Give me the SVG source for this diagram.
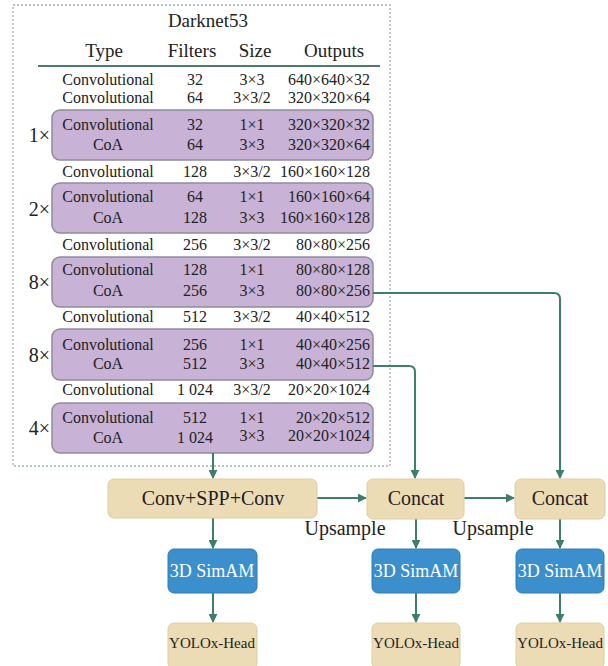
<svg xmlns="http://www.w3.org/2000/svg" width="608" height="666" viewBox="0 0 608 666" font-family="'Liberation Serif', 'Times New Roman', serif">
<defs>
<marker id="ah" viewBox="0 0 10 10" refX="9" refY="5" markerWidth="4.5" markerHeight="4.5" orient="auto" markerUnits="strokeWidth">
<path d="M0,0 L10,5 L0,10 z" fill="#3f7d6c"/>
</marker>
<style>
text{font-family:"Liberation Serif","Times New Roman",serif;fill:#222}
.r{font-size:16px}
.c{text-anchor:middle}
.e{text-anchor:end}
.h{font-size:19px}
.lab{font-size:20px;text-anchor:end}
.grp{fill:#c8b2d5;stroke:#8e8c9c;stroke-width:1.5}
.bg{fill:#ecdcb6;stroke:#ddcca4;stroke-width:1}
.bl{fill:#3b8fcc;stroke:#2f7cb4;stroke-width:1}
.wt{fill:#fff;font-size:18px;text-anchor:middle}
.big{font-size:20px;text-anchor:middle}
.hd{font-size:15px;text-anchor:middle}
.ln{fill:none;stroke:#3f7d6c;stroke-width:2}
</style>
</defs>
<rect width="608" height="666" fill="#fff"/>
<g id="darknet53">
<rect x="13" y="5" width="377" height="461" fill="none" stroke="#9fb3b0" stroke-width="1.3" stroke-dasharray="2 2"/>
<text class="h c" x="208" y="27">Darknet53</text>
<text class="h c" x="104" y="57">Type</text>
<text class="h c" x="192" y="57">Filters</text>
<text class="h c" x="255" y="57">Size</text>
<text class="h c" x="334" y="57">Outputs</text>
<line x1="38" y1="66" x2="380" y2="66" stroke="#4f7a70" stroke-width="2"/>
<rect class="grp" x="52" y="110" width="321" height="50" rx="8"/>
<rect class="grp" x="52" y="183" width="321" height="50" rx="8"/>
<rect class="grp" x="52" y="257" width="321" height="50" rx="8"/>
<rect class="grp" x="52" y="329" width="321" height="51" rx="8"/>
<rect class="grp" x="52" y="403" width="321" height="50" rx="8"/>
<text class="lab" x="50" y="142">1×</text>
<text class="lab" x="50" y="216">2×</text>
<text class="lab" x="50" y="289">8×</text>
<text class="lab" x="50" y="362">8×</text>
<text class="lab" x="50" y="435">4×</text>
<g class="r">
<text class="c" x="108" y="85">Convolutional</text><text class="c" x="195" y="85">32</text><text class="c" x="252" y="85">3×3</text><text class="e" x="370" y="85">640×640×32</text>
<text class="c" x="108" y="103">Convolutional</text><text class="c" x="195" y="103">64</text><text class="c" x="252" y="103">3×3/2</text><text class="e" x="370" y="103">320×320×64</text>
<text class="c" x="108" y="130">Convolutional</text><text class="c" x="195" y="130">32</text><text class="c" x="252" y="130">1×1</text><text class="e" x="370" y="130">320×320×32</text>
<text class="c" x="108" y="150">CoA</text><text class="c" x="195" y="150">64</text><text class="c" x="252" y="150">3×3</text><text class="e" x="370" y="150">320×320×64</text>
<text class="c" x="108" y="177">Convolutional</text><text class="c" x="195" y="177">128</text><text class="c" x="252" y="177">3×3/2</text><text class="e" x="370" y="177">160×160×128</text>
<text class="c" x="108" y="202">Convolutional</text><text class="c" x="195" y="202">64</text><text class="c" x="252" y="202">1×1</text><text class="e" x="370" y="202">160×160×64</text>
<text class="c" x="108" y="223">CoA</text><text class="c" x="195" y="223">128</text><text class="c" x="252" y="223">3×3</text><text class="e" x="370" y="223">160×160×128</text>
<text class="c" x="108" y="250">Convolutional</text><text class="c" x="195" y="250">256</text><text class="c" x="252" y="250">3×3/2</text><text class="e" x="370" y="250">80×80×256</text>
<text class="c" x="108" y="275">Convolutional</text><text class="c" x="195" y="275">128</text><text class="c" x="252" y="275">1×1</text><text class="e" x="370" y="275">80×80×128</text>
<text class="c" x="108" y="296">CoA</text><text class="c" x="195" y="296">256</text><text class="c" x="252" y="296">3×3</text><text class="e" x="370" y="296">80×80×256</text>
<text class="c" x="108" y="322">Convolutional</text><text class="c" x="195" y="322">512</text><text class="c" x="252" y="322">3×3/2</text><text class="e" x="370" y="322">40×40×512</text>
<text class="c" x="108" y="350">Convolutional</text><text class="c" x="195" y="350">256</text><text class="c" x="252" y="350">1×1</text><text class="e" x="370" y="350">40×40×256</text>
<text class="c" x="108" y="369">CoA</text><text class="c" x="195" y="369">512</text><text class="c" x="252" y="369">3×3</text><text class="e" x="370" y="369">40×40×512</text>
<text class="c" x="108" y="395">Convolutional</text><text class="c" x="195" y="395">1 024</text><text class="c" x="252" y="395">3×3/2</text><text class="e" x="370" y="395">20×20×1024</text>
<text class="c" x="108" y="423">Convolutional</text><text class="c" x="195" y="423">512</text><text class="c" x="252" y="423">1×1</text><text class="e" x="370" y="423">20×20×512</text>
<text class="c" x="108" y="443">CoA</text><text class="c" x="195" y="443">1 024</text><text class="c" x="252" y="441">3×3</text><text class="e" x="370" y="441">20×20×1024</text>
</g>
</g>
<g id="connectors">
<path class="ln" d="M213,453 V478" marker-end="url(#ah)"/>
<path class="ln" d="M373,293 H554 Q560,293 560,299 V478" marker-end="url(#ah)"/>
<path class="ln" d="M373,366 H409 Q415,366 415,372 V478" marker-end="url(#ah)"/>
<path class="ln" d="M317,498 H366" marker-end="url(#ah)"/>
<path class="ln" d="M464,498 H514" marker-end="url(#ah)"/>
<path class="ln" d="M213,518 V548" marker-end="url(#ah)"/>
<path class="ln" d="M416,519 V548" marker-end="url(#ah)"/>
<path class="ln" d="M560,519 V548" marker-end="url(#ah)"/>
<path class="ln" d="M213,593 V622" marker-end="url(#ah)"/>
<path class="ln" d="M416,593 V622" marker-end="url(#ah)"/>
<path class="ln" d="M560,593 V622" marker-end="url(#ah)"/>
</g>
<g id="conv-spp">
<rect class="bg" x="108" y="479" width="209" height="39" rx="6"/>
<text class="big" x="213" y="505">Conv+SPP+Conv</text>
</g>
<g id="concat1">
<rect class="bg" x="367" y="479" width="97" height="40" rx="6"/>
<text class="big" x="416" y="505">Concat</text>
</g>
<g id="concat2">
<rect class="bg" x="515" y="479" width="90" height="40" rx="6"/>
<text class="big" x="560" y="505">Concat</text>
</g>
<g id="upsample-labels">
<text class="big" x="345" y="535">Upsample</text>
<text class="big" x="493" y="535">Upsample</text>
</g>
<g id="simam1">
<rect class="bl" x="168" y="549" width="89" height="44" rx="6"/>
<text class="wt" x="212" y="577">3D SimAM</text>
</g>
<g id="simam2">
<rect class="bl" x="372" y="549" width="88" height="44" rx="6"/>
<text class="wt" x="416" y="577">3D SimAM</text>
</g>
<g id="simam3">
<rect class="bl" x="516" y="549" width="88" height="44" rx="6"/>
<text class="wt" x="560" y="577">3D SimAM</text>
</g>
<g id="head1">
<rect class="bg" x="168" y="623" width="89" height="46" rx="6"/>
<text class="hd" x="212" y="648">YOLOx-Head</text>
</g>
<g id="head2">
<rect class="bg" x="372" y="623" width="88" height="46" rx="6"/>
<text class="hd" x="416" y="648">YOLOx-Head</text>
</g>
<g id="head3">
<rect class="bg" x="516" y="623" width="88" height="46" rx="6"/>
<text class="hd" x="560" y="648">YOLOx-Head</text>
</g>
</svg>
